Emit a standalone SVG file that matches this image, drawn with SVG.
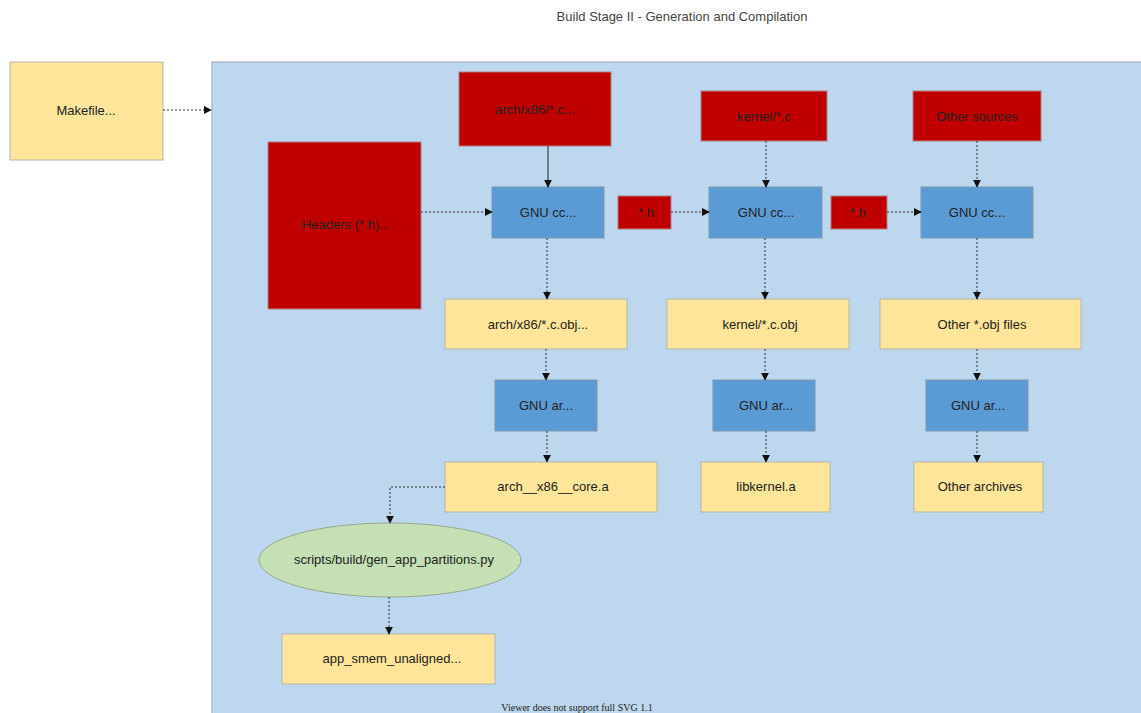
<svg xmlns="http://www.w3.org/2000/svg" width="1141" height="713" viewBox="0 0 1141 713">
<style>
.t{font-family:"Liberation Sans",Arial,sans-serif;font-size:13px;fill:#222;text-anchor:middle;dominant-baseline:central}
.red{fill:#c00000;stroke:#b08080;stroke-width:1}
.blue{fill:#5b9bd5;stroke:#7f98ad;stroke-width:1}
.yel{fill:#ffe599;stroke:#b5b5a8;stroke-width:1}
.grn{fill:#c5e0b4;stroke:#98a890;stroke-width:1}
.c{fill:none;stroke:#333;stroke-width:1;stroke-dasharray:2 2;marker-end:url(#ah)}
.s{fill:none;stroke:#222;stroke-width:1;marker-end:url(#ah)}
</style>
<defs>
<marker id="ah" viewBox="0 0 10 10" refX="9" refY="5" markerWidth="8" markerHeight="8" markerUnits="userSpaceOnUse" orient="auto">
<path d="M0,0 L10,5 L0,10 z" fill="#111"/>
</marker>
</defs>
<rect width="1141" height="713" fill="#ffffff"/>
<text x="682" y="16" class="t" style="fill:#444">Build Stage II - Generation and Compilation</text>
<g id="container"><rect x="212" y="62" width="935" height="660" fill="#bdd7ee" stroke="#9aa4ad"/></g>
<g id="makefile"><rect x="10" y="62" width="153" height="98" class="yel"/><text x="86" y="110" class="t">Makefile...</text></g>
<g id="arch-src"><rect x="459" y="72" width="152" height="74" class="red"/><text x="535" y="109" class="t">arch/x86/*.c...</text></g>
<g id="kernel-src"><rect x="701" y="91" width="126" height="50" class="red"/><text x="764" y="116" class="t">kernel/*.c</text></g>
<g id="other-src"><rect x="913" y="91" width="128" height="50" class="red"/><text x="977" y="116" class="t">Other sources</text></g>
<g id="headers"><rect x="268" y="142" width="153" height="167" class="red"/><text x="346" y="224" class="t">Headers (*.h)...</text></g>
<g id="gcc1"><rect x="492" y="187" width="112" height="51" class="blue"/><text x="548" y="212" class="t">GNU cc...</text></g>
<g id="h1"><rect x="618" y="196" width="53" height="33" class="red"/><text x="646" y="212" class="t">*.h</text></g>
<g id="gcc2"><rect x="709" y="187" width="113" height="51" class="blue"/><text x="766" y="212" class="t">GNU cc...</text></g>
<g id="h2"><rect x="831" y="196" width="56" height="33" class="red"/><text x="858" y="212" class="t">*.h</text></g>
<g id="gcc3"><rect x="921" y="187" width="112" height="51" class="blue"/><text x="977" y="212" class="t">GNU cc...</text></g>
<g id="arch-obj"><rect x="445" y="299" width="182" height="50" class="yel"/><text x="538" y="324" class="t">arch/x86/*.c.obj...</text></g>
<g id="kernel-obj"><rect x="667" y="299" width="182" height="50" class="yel"/><text x="760" y="324" class="t">kernel/*.c.obj</text></g>
<g id="other-obj"><rect x="880" y="299" width="201" height="50" class="yel"/><text x="982" y="324" class="t">Other *.obj files</text></g>
<g id="ar1"><rect x="495" y="380" width="102" height="51" class="blue"/><text x="546" y="405" class="t">GNU ar...</text></g>
<g id="ar2"><rect x="713" y="380" width="102" height="51" class="blue"/><text x="766" y="405" class="t">GNU ar...</text></g>
<g id="ar3"><rect x="926" y="380" width="102" height="51" class="blue"/><text x="978" y="405" class="t">GNU ar...</text></g>
<g id="arch-a"><rect x="445" y="462" width="212" height="50" class="yel"/><text x="553" y="486" class="t">arch__x86__core.a</text></g>
<g id="libkernel"><rect x="701" y="462" width="129" height="50" class="yel"/><text x="766" y="486" class="t">libkernel.a</text></g>
<g id="other-a"><rect x="914" y="462" width="129" height="50" class="yel"/><text x="980" y="486" class="t">Other archives</text></g>
<g id="genpy"><ellipse cx="390" cy="560" rx="131" ry="37" class="grn"/><text x="394" y="559" class="t">scripts/build/gen_app_partitions.py</text></g>
<g id="smem"><rect x="282" y="634" width="213" height="50" class="yel"/><text x="392" y="658" class="t">app_smem_unaligned...</text></g>
<g id="connectors">
<path d="M163,110 H211" class="c"/>
<path d="M548,146 V187" class="s"/>
<path d="M421,212 H492" class="c"/>
<path d="M766,141 V187" class="c"/>
<path d="M977,141 V187" class="c"/>
<path d="M671,212 H709" class="c"/>
<path d="M887,212 H921" class="c"/>
<path d="M547,238 V299" class="c"/>
<path d="M765,238 V299" class="c"/>
<path d="M977,238 V299" class="c"/>
<path d="M546,349 V380" class="c"/>
<path d="M765,349 V380" class="c"/>
<path d="M977,349 V380" class="c"/>
<path d="M547,431 V462" class="c"/>
<path d="M766,431 V462" class="c"/>
<path d="M977,431 V462" class="c"/>
<path d="M445,487 H390 V523" class="c"/>
<path d="M389,597 V634" class="c"/>
</g>
<text x="577" y="707" style="font-family:'Liberation Serif','Times New Roman',serif;font-size:10px;fill:#222;text-anchor:middle;dominant-baseline:central">Viewer does not support full SVG 1.1</text>
</svg>
